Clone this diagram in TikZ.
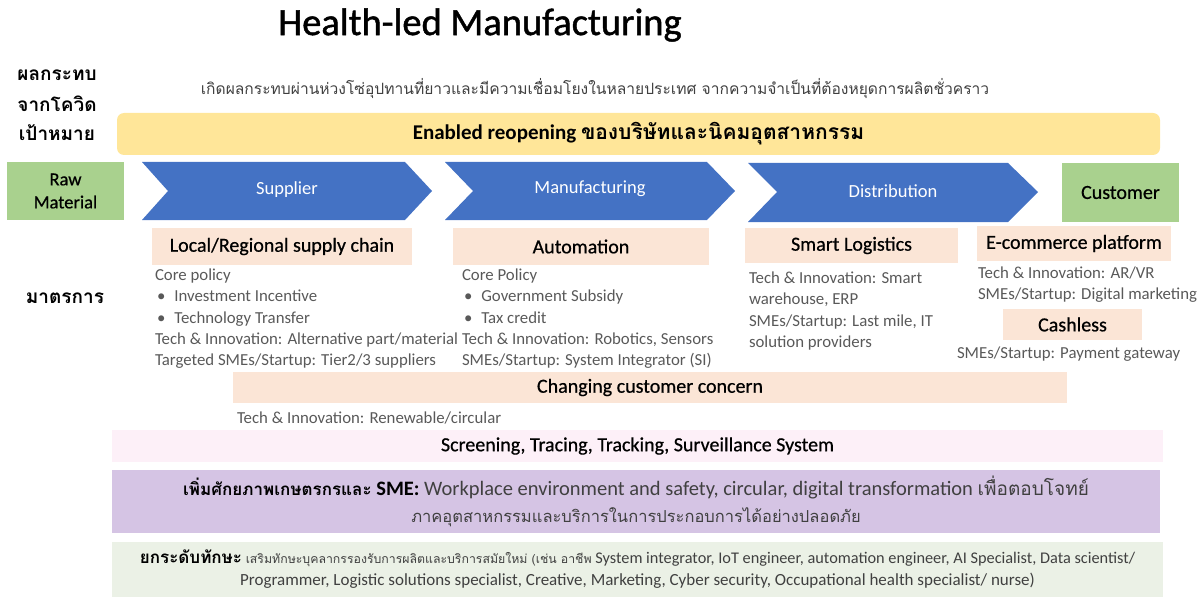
\documentclass[tikz,border=0pt]{standalone}
\usepackage{fontspec}
\setmainfont{Carlito}
\newfontfamily\thaif[Script=Thai]{Loma}
\newfontfamily\medf[FakeBold=0.6]{Carlito}
\newfontfamily\titlef[FakeBold=1.2]{Carlito}
\definecolor{yellowc}{HTML}{FFE699}
\definecolor{greenc}{HTML}{A9D18E}
\definecolor{bluec}{HTML}{4472C4}
\definecolor{peachc}{HTML}{FBE5D6}
\definecolor{pinkc}{HTML}{FDF0F8}
\definecolor{purplec}{HTML}{D5C4E4}
\definecolor{lgreenc}{HTML}{EBF1E6}
\definecolor{bodygray}{HTML}{595959}
\definecolor{darkgray}{HTML}{404040}
\begin{document}
\begin{tikzpicture}[x=1pt,y=-1pt,
  every node/.style={inner sep=0pt, outer sep=0pt},
  hdr/.style={font=\medf\fontsize{20}{22}\selectfont, text=black},
  body/.style={font=\fontsize{16.8}{21.3}\selectfont, text=bodygray, align=left, anchor=north west},
  chevtext/.style={text=white, font=\fontsize{18.5}{20}\selectfont},
  sidelbl/.style={font=\thaif\bfseries\fontsize{19}{20}\selectfont, text=black},
  peachbox/.style={fill=peachc, hdr},
  greenbox/.style={fill=greenc, hdr}]
\useasboundingbox (0,0) rectangle (1200,599);

% title
\node[font=\titlef\fontsize{38.5}{40}\selectfont] (title) at (480,25) {Health-led Manufacturing};

% left labels
\node[sidelbl] (l1) at (57,75) {ผลกระทบ};
\node[sidelbl] (l2) at (57,104) {จากโควิด};
\node[sidelbl] (l3) at (57,133) {เป้าหมาย};
\node[sidelbl] (l4) at (65,298) {มาตรการ};

% impact text
\node[font=\thaif\fontsize{15.6}{18}\selectfont, text=darkgray] (impact) at (595,89)
  {เกิดผลกระทบผ่านห่วงโซ่อุปทานที่ยาวและมีความเชื่อมโยงในหลายประเทศ จากความจำเป็นที่ต้องหยุดการผลิตชั่วคราว};

% goal
\node[fill=yellowc, rounded corners=7pt, minimum width=1043pt, minimum height=42pt] (goal) at (638.5,134) {};
\node[font=\fontsize{21}{24}\selectfont\bfseries] (goaltxt) at (goal.center)
  {Enabled reopening {\thaif ของบริษัทและนิคมอุตสาหกรรม}};

% raw material / customer
\node[greenbox, minimum width=117pt, minimum height=58pt, align=center,
  font=\medf\fontsize{18.5}{23}\selectfont] (raw) at (65.5,191) {Raw\\Material};
\node[greenbox, minimum width=117pt, minimum height=59pt] (cust) at (1120.5,192.5) {Customer};

% chevrons
\fill[bluec] (142,162) -- (405,162) -- (432,191) -- (405,220) -- (142,220) -- (168,191) -- cycle;
\node[chevtext] (sup) at (287,190) {Supplier};
\fill[bluec] (445,162) -- (707,162) -- (735,191) -- (707,220) -- (445,220) -- (473,191) -- cycle;
\node[chevtext] (man) at (590,189) {Manufacturing};
\fill[bluec] (748,163) -- (1008,163) -- (1038,192) -- (1008,222) -- (748,222) -- (777,192) -- cycle;
\node[chevtext] (dist) at (893,191) {Distribution};

% peach boxes
\node[peachbox, minimum width=260pt, minimum height=37pt] (lrsc) at (282,246.5) {Local/Regional supply chain};
\node[peachbox, minimum width=256pt, minimum height=37pt] (auto) at (581,246.5) {Automation};
\node[peachbox, minimum width=213pt, minimum height=35pt] (smart) at (851.5,245.5) {Smart Logistics};
\node[peachbox, minimum width=194pt, minimum height=35pt] (ecom) at (1074,243.5) {E-commerce platform};
\node[peachbox, minimum width=139pt, minimum height=31pt] (cash) at (1072.5,324.5) {Cashless};
\node[peachbox, minimum width=834pt, minimum height=31pt] (chg) at (650,387.5) {Changing customer concern};

% body texts
\node[body] (supbody) at (155,269) {Core policy\\
\hspace{2pt}•\hspace{9pt}Investment Incentive\\
\hspace{2pt}•\hspace{9pt}Technology Transfer\\
Tech \& Innovation: Alternative part/material\\
Targeted SMEs/Startup: Tier2/3 suppliers};
\node[body] (manbody) at (462,269) {Core Policy\\
\hspace{2pt}•\hspace{9pt}Government Subsidy\\
\hspace{2pt}•\hspace{9pt}Tax credit\\
Tech \& Innovation: Robotics, Sensors\\
SMEs/Startup: System Integrator (SI)};
\node[body] (distbody) at (749,272) {Tech \& Innovation: Smart\\
warehouse, ERP\\
SMEs/Startup: Last mile, IT\\
solution providers};
\node[body] (custbody) at (978,267) {Tech \& Innovation: AR/VR\\
SMEs/Startup: Digital marketing};
\node[body] (paybody) at (957,347) {SMEs/Startup: Payment gateway};
\node[body] (renew) at (237,412) {Tech \& Innovation: Renewable/circular};

% screening
\node[fill=pinkc, minimum width=1051pt, minimum height=32pt, hdr] (scr) at (637.5,446)
  {Screening, Tracing, Tracking, Surveillance System};

% purple
\node[fill=purplec, minimum width=1048pt, minimum height=63pt] (sme) at (636,501.5) {};
\node[align=center, text=darkgray, font=\fontsize{20.5}{27}\selectfont] (smetxt) at (sme.center)
  {{\color{black}\thaif\bfseries\fontsize{17}{27}\selectfont เพิ่มศักยภาพเกษตรกรและ} {\color{black}\bfseries SME:} Workplace environment and safety, circular, digital transformation {\thaif\fontsize{19}{27}\selectfont เพื่อตอบโจทย์}\\
  {\thaif\fontsize{16.5}{27}\selectfont ภาคอุตสาหกรรมและบริการในการประกอบการได้อย่างปลอดภัย}};

% light green
\node[fill=lgreenc, minimum width=1051pt, minimum height=55pt] (skill) at (637.5,569.5) {};
\node[align=center, text=darkgray, font=\fontsize{16.3}{22}\selectfont] (skilltxt) at (skill.center)
  {{\color{black}\thaif\bfseries\fontsize{17}{22}\selectfont ยกระดับทักษะ} {\thaif\fontsize{12.3}{22}\selectfont เสริมทักษะบุคลากรรองรับการผลิตและบริการสมัยใหม่ (เช่น อาชีพ} System integrator, IoT engineer, automation engineer, AI Specialist, Data scientist/\\
  {\fontsize{17}{22}\selectfont Programmer, Logistic solutions specialist, Creative, Marketing, Cyber security, Occupational health specialist/ nurse)}};
\end{tikzpicture}
\end{document}
